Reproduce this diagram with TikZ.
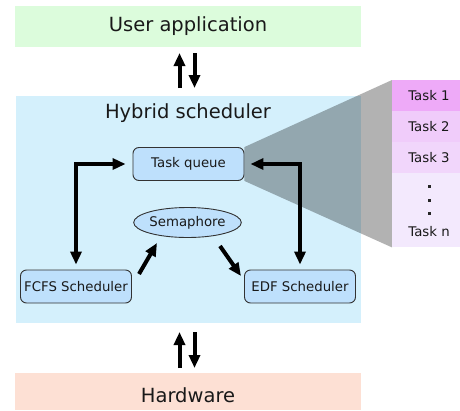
\documentclass[tikz,border=0pt]{standalone}
\usepackage{fontspec}
\setmainfont{DejaVu Sans}
\usetikzlibrary{arrows.meta,shapes.geometric}

\definecolor{appgreen}{RGB}{220,252,220}
\definecolor{hybblue}{RGB}{212,240,252}
\definecolor{hwpeach}{RGB}{253,224,212}
\definecolor{boxblue}{RGB}{190,224,252}
\definecolor{edgegray}{RGB}{50,50,50}
\definecolor{taskA}{RGB}{238,170,248}
\definecolor{taskB}{RGB}{240,204,250}
\definecolor{taskC}{RGB}{241,214,251}
\definecolor{taskD}{RGB}{243,233,253}

\pgfdeclarelayer{bg}
\pgfdeclarelayer{mid}
\pgfsetlayers{bg,mid,main}

\tikzset{
  bigfont/.style={font=\fontsize{19.5}{22}\selectfont, text=black!90},
  smallfont/.style={font=\fontsize{13.3}{15}\selectfont, text=black!90},
  layer/.style={fill=#1, minimum width=346pt, inner sep=0pt, bigfont},
  procbox/.style={draw=edgegray, line width=0.9pt, fill=boxblue, rounded corners=6pt,
    minimum width=111pt, minimum height=33pt, inner sep=0pt, smallfont},
  semnode/.style={ellipse, draw=edgegray, line width=0.9pt, fill=boxblue,
    minimum width=95pt, minimum height=30pt, inner sep=0pt, smallfont},
  taskcell/.style={fill=#1, minimum width=68pt, inner sep=0pt, anchor=north west},
  tasktext/.style={smallfont},
  bigarrow/.style={line width=4pt, -{Triangle[length=13pt,width=11pt]}},
  twoway/.style={line width=4pt, {Triangle[length=13pt,width=11pt]}-{Triangle[length=13pt,width=11pt]}},
}

\begin{document}
\begin{tikzpicture}[x=1pt,y=-1pt]
\useasboundingbox (0,0) rectangle (460,410);

% Layers of the stack
\begin{pgfonlayer}{bg}
\node[layer=appgreen, minimum height=41pt] (app) at (188,26.5) {User application};
\node[fill=hybblue, minimum width=345pt, minimum height=227pt, inner sep=0pt] (hyb) at (188.5,209.5) {};
\node[bigfont] (hybtitle) at (188,113) {Hybrid scheduler};
\node[layer=hwpeach, minimum height=37pt, anchor=north] (hw) at (188,373) {};
\node[bigfont] (hwtext) at (188,395) {Hardware};
\end{pgfonlayer}

% Arrows between the layers
\coordinate (upAfrom) at (179.5,88);
\coordinate (upAto) at (179.5,53);
\coordinate (dnAfrom) at (194.5,53);
\coordinate (dnAto) at (194.5,88);
\coordinate (upBfrom) at (179.5,368);
\coordinate (upBto) at (179.5,332);
\coordinate (dnBfrom) at (194.5,332);
\coordinate (dnBto) at (194.5,368);
\draw[bigarrow] (upAfrom) -- (upAto);
\draw[bigarrow] (dnAfrom) -- (dnAto);
\draw[bigarrow] (upBfrom) -- (upBto);
\draw[bigarrow] (dnBfrom) -- (dnBto);

% Scheduler components
\node[procbox] (tq) at (188.5,164) {Task queue};
\node[semnode] (sem) at (187.5,222.5) {Semaphore};
\node[procbox] (fcfs) at (76,286.5) {FCFS Scheduler};
\node[procbox] (edf) at (300,286.5) {EDF Scheduler};

% Task list column
\node[taskcell=taskA, minimum height=31pt] (t1) at (392,80) {};
\node[taskcell=taskB, minimum height=31pt] (t2) at (392,111) {};
\node[taskcell=taskC, minimum height=31pt] (t3) at (392,142) {};
\node[taskcell=taskD, minimum height=74pt] (tn) at (392,173) {};
\node[tasktext] (l1) at (429,96) {Task 1};
\node[tasktext] (l2) at (429,127) {Task 2};
\node[tasktext] (l3) at (429,158) {Task 3};
\node[tasktext] (ln) at (429,232) {Task n};
\foreach \yy in {186,200,213} \fill[black!85] (427.5,\yy-1.5) rectangle (430.5,\yy+1.5);

\begin{pgfonlayer}{mid}
% Connectors
\draw[twoway] ([yshift=5pt]fcfs.north) |- ([xshift=-7pt]tq.west);
\draw[twoway] ([yshift=5pt]edf.north) |- ([xshift=6pt]tq.east);
\coordinate (fsA) at (139,274);
\coordinate (fsB) at (157,243);
\coordinate (seA) at (220,246);
\coordinate (seB) at (241,276);
\draw[bigarrow] (fsA) -- (fsB);
\draw[bigarrow] (seA) -- (seB);
% Zoom wedge from the task queue to the task list
\fill[black, opacity=0.3] (tq.north east) -- (t1.north west) -- (tn.south west) -- (tq.south east) -- cycle;
\end{pgfonlayer}
\end{tikzpicture}
\end{document}
